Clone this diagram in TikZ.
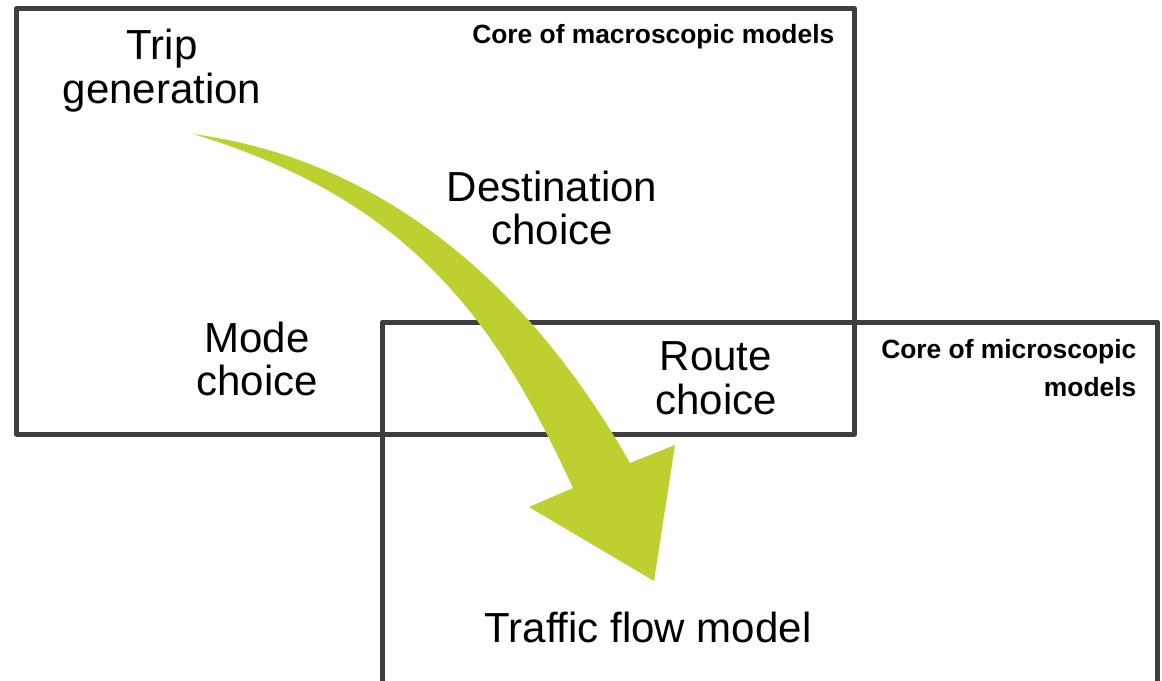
\documentclass[tikz,border=0pt]{standalone}
\usepackage{fontspec}
\setmainfont{Liberation Sans}
\definecolor{boxgray}{RGB}{62,62,64}
\definecolor{arrowgreen}{RGB}{189,208,47}
\tikzset{
  corebox/.style={draw=boxgray,line width=1.42pt,line join=round},
  bigtext/.style={font=\fontsize{11.95}{12.4}\selectfont,align=center,inner sep=0pt},
  coretext/.style={font=\fontsize{7.5}{10.8}\selectfont\bfseries,align=right,inner sep=0pt},
}
\begin{document}
\begin{tikzpicture}[x=0.01cm,y=-0.01cm]
  \useasboundingbox (0,0) rectangle (1162,681);

  % 宏观模型框
  \draw[corebox] (16.5,8.5) rectangle (854.5,434);
  % 微观模型框,下边在画面外
  \draw[corebox] (382.5,681) -- (382.5,322) -- (1157.5,322) -- (1157.5,681);

  % 框的标题
  \node[coretext,anchor=base east] (macro) at (835,43.3) {Core of macroscopic models};
  \node[coretext,anchor=east] (micro) at (1137,368.5) {Core of microscopic\\models};

  % 各步骤
  \node[bigtext] (trip) at (162,70.5) {Trip\\generation};
  \node[bigtext] (dest) at (552,208) {Destination\\choice};
  \node[bigtext] (mode) at (257,359) {Mode\\choice};
  \node[bigtext] (route) at (716,378) {Route\\choice};
  \node[bigtext,anchor=base] (flow) at (648,642) {Traffic flow model};

  % 弯箭头
  \coordinate (tail) at (193,134);
  \coordinate (shaftR) at (630,463);
  \coordinate (headR) at (675,445);
  \coordinate (tip) at (654,581);
  \coordinate (headL) at (529,507);
  \coordinate (shaftL) at (573,488);
  \fill[arrowgreen] (tail) .. controls (386,160) and (531,289) .. (shaftR)
    -- (headR) -- (tip) -- (headL) -- (shaftL)
    .. controls (500,330) and (418,202) .. (tail) -- cycle;
\end{tikzpicture}
\end{document}
